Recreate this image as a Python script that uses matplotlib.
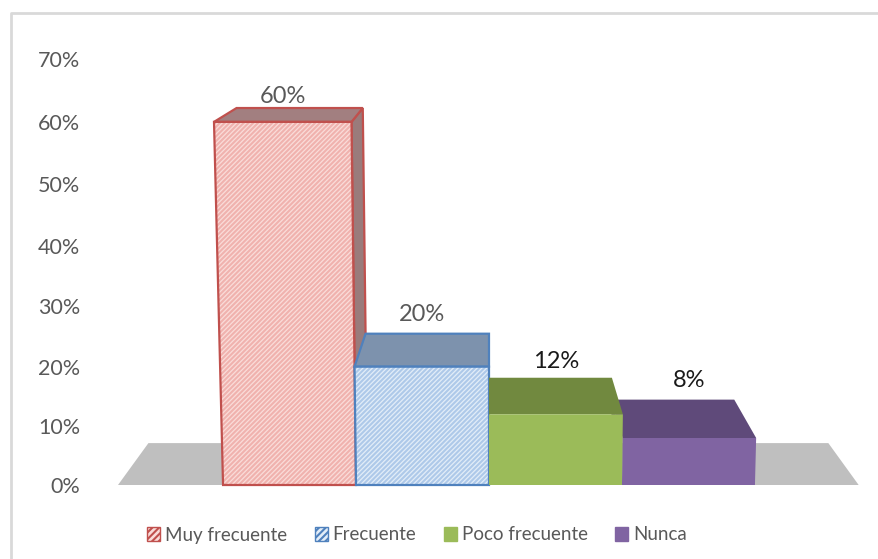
import numpy as np
import matplotlib
matplotlib.use('Agg')
import matplotlib.pyplot as plt
from matplotlib.lines import Line2D
from matplotlib.patches import Polygon, Patch

plt.rcParams['font.family'] = ['Lato', 'DejaVu Sans']
plt.rcParams['hatch.linewidth'] = 1.5

# Datos
categorias = ['Muy frecuente', 'Frecuente', 'Poco frecuente', 'Nunca']
valores = [60, 20, 12, 8]
ticks_y = [0, 10, 20, 30, 40, 50, 60, 70]

# Colores: frente, cara superior, borde, trama
frente = ['#fadcd9', '#e2edf8', '#9bbb59', '#8064a2']
superior = ['#a27f80', '#7d92ad', '#71893f', '#5f4a7a']
lateral = ['#9a7b7b', '#7d92ad', '#71893f', '#5f4a7a']
borde = ['#c0504d', '#4f81bd', '#9bbb59', '#8064a2']
trama = ['#f0b2ae', '#aec9e9', None, None]
color_label = ['#595959', '#595959', '#1a1a1a', '#1a1a1a']
separacion_label = [8, 14, 12, 14]

# Perspectiva del grafico 3D
centro_x = 1.5
fuga_y = 87.0
fondo = 0.082
inclinacion = 5.67e-4
curva_y = 5.8e-4
piso_x = (-1.29, 4.28)


def proyectar(x, y, d=0.0):
    x2 = centro_x + (x - centro_x) * (1 + y * inclinacion)
    return (x2 + d * (centro_x - x2), y + d * (fuga_y - y))


# El eje vertical de la imagen no es del todo lineal
def escala(v):
    v = np.asarray(v, dtype=float)
    return v * (1 + curva_y * v)


def escala_inv(u):
    u = np.asarray(u, dtype=float)
    return (np.sqrt(1 + 4 * curva_y * np.maximum(u, 0)) - 1) / (2 * curva_y)


def cara(ax, puntos, color, linea=None, zorder=2, rayas=None):
    if rayas:
        ax.add_patch(Polygon(puntos, facecolor=color, edgecolor=rayas, hatch='///////',
                             linewidth=0, clip_on=False, zorder=zorder))
    else:
        ax.add_patch(Polygon(puntos, facecolor=color, edgecolor='none', clip_on=False, zorder=zorder))
    if linea:
        ax.add_patch(Polygon(puntos, fill=False, edgecolor=linea, linewidth=1.6,
                             clip_on=False, zorder=zorder))


def barra(ax, i, z):
    v = valores[i]
    izq, der = i - 0.5, i + 0.5
    linea = None if trama[i] is None else borde[i]
    # cara lateral visible segun el lado del centro
    lado = der if der <= centro_x else izq
    if lado != centro_x:
        cara(ax, [proyectar(lado, 0), proyectar(lado, v), proyectar(lado, v, fondo), proyectar(lado, 0, fondo)],
             lateral[i], linea, z)
    cara(ax, [proyectar(izq, v), proyectar(der, v), proyectar(der, v, fondo), proyectar(izq, v, fondo)],
         superior[i], linea, z + 0.1)
    cara(ax, [proyectar(izq, 0), proyectar(der, 0), proyectar(der, v), proyectar(izq, v)],
         frente[i], linea, z + 0.2, trama[i])


fig = plt.figure(figsize=(8.79, 5.59), dpi=100)

# Marco: solo arriba e izquierda
fig.add_artist(Line2D([11 / 879, 11 / 879, 1], [0, (559 - 13) / 559, (559 - 13) / 559], color='#d9d9d9',
                      linewidth=2, transform=fig.transFigure))

ax = fig.add_axes([118 / 879, (559 - 485) / 559, 742 / 879, 426 / 559])
ax.set_yscale('function', functions=(escala, escala_inv))
ax.set_xlim(-1.29, 4.29)
ax.set_ylim(0, 70)
ax.patch.set_alpha(0)
for s in ax.spines.values():
    s.set_visible(False)
ax.set_xticks([])
ax.set_yticks(ticks_y)
ax.set_yticks([], minor=True)
ax.set_yticklabels([f'{t}%' for t in ticks_y], fontsize=15.5, color='#595959')
ax.tick_params(axis='y', length=0, pad=27)

# Piso gris
cara(ax, [proyectar(piso_x[0], 0), proyectar(piso_x[1], 0),
          proyectar(piso_x[1], 0, fondo), proyectar(piso_x[0], 0, fondo)], '#bfbfbf', None, 1)

# Orden de dibujo: el verde tapa al morado
for z, i in enumerate([0, 1, 3, 2]):
    barra(ax, i, 2 + z)

# Etiquetas de datos
for i, v in enumerate(valores):
    ax.annotate(f'{v}%', (proyectar(i, v)[0], proyectar(i, v, fondo)[1]), xytext=(0, separacion_label[i]),
                textcoords='offset points', ha='center', va='center', fontsize=17,
                color=color_label[i], zorder=10, annotation_clip=False)

# Leyenda
handles = []
for i, c in enumerate(categorias):
    if trama[i]:
        handles.append(Patch(facecolor=frente[i], edgecolor=borde[i], hatch='/////', label=c))
    else:
        handles.append(Patch(facecolor=frente[i], edgecolor=borde[i], label=c))
fig.legend(handles=handles, ncol=4, frameon=False, loc='center', bbox_to_anchor=(417 / 879, (559 - 535) / 559),
           fontsize=13.5, labelcolor='#595959', handlelength=0.7, handleheight=0.7, handletextpad=0.25,
           columnspacing=1.47)

fig.savefig('out.png', dpi=100)
